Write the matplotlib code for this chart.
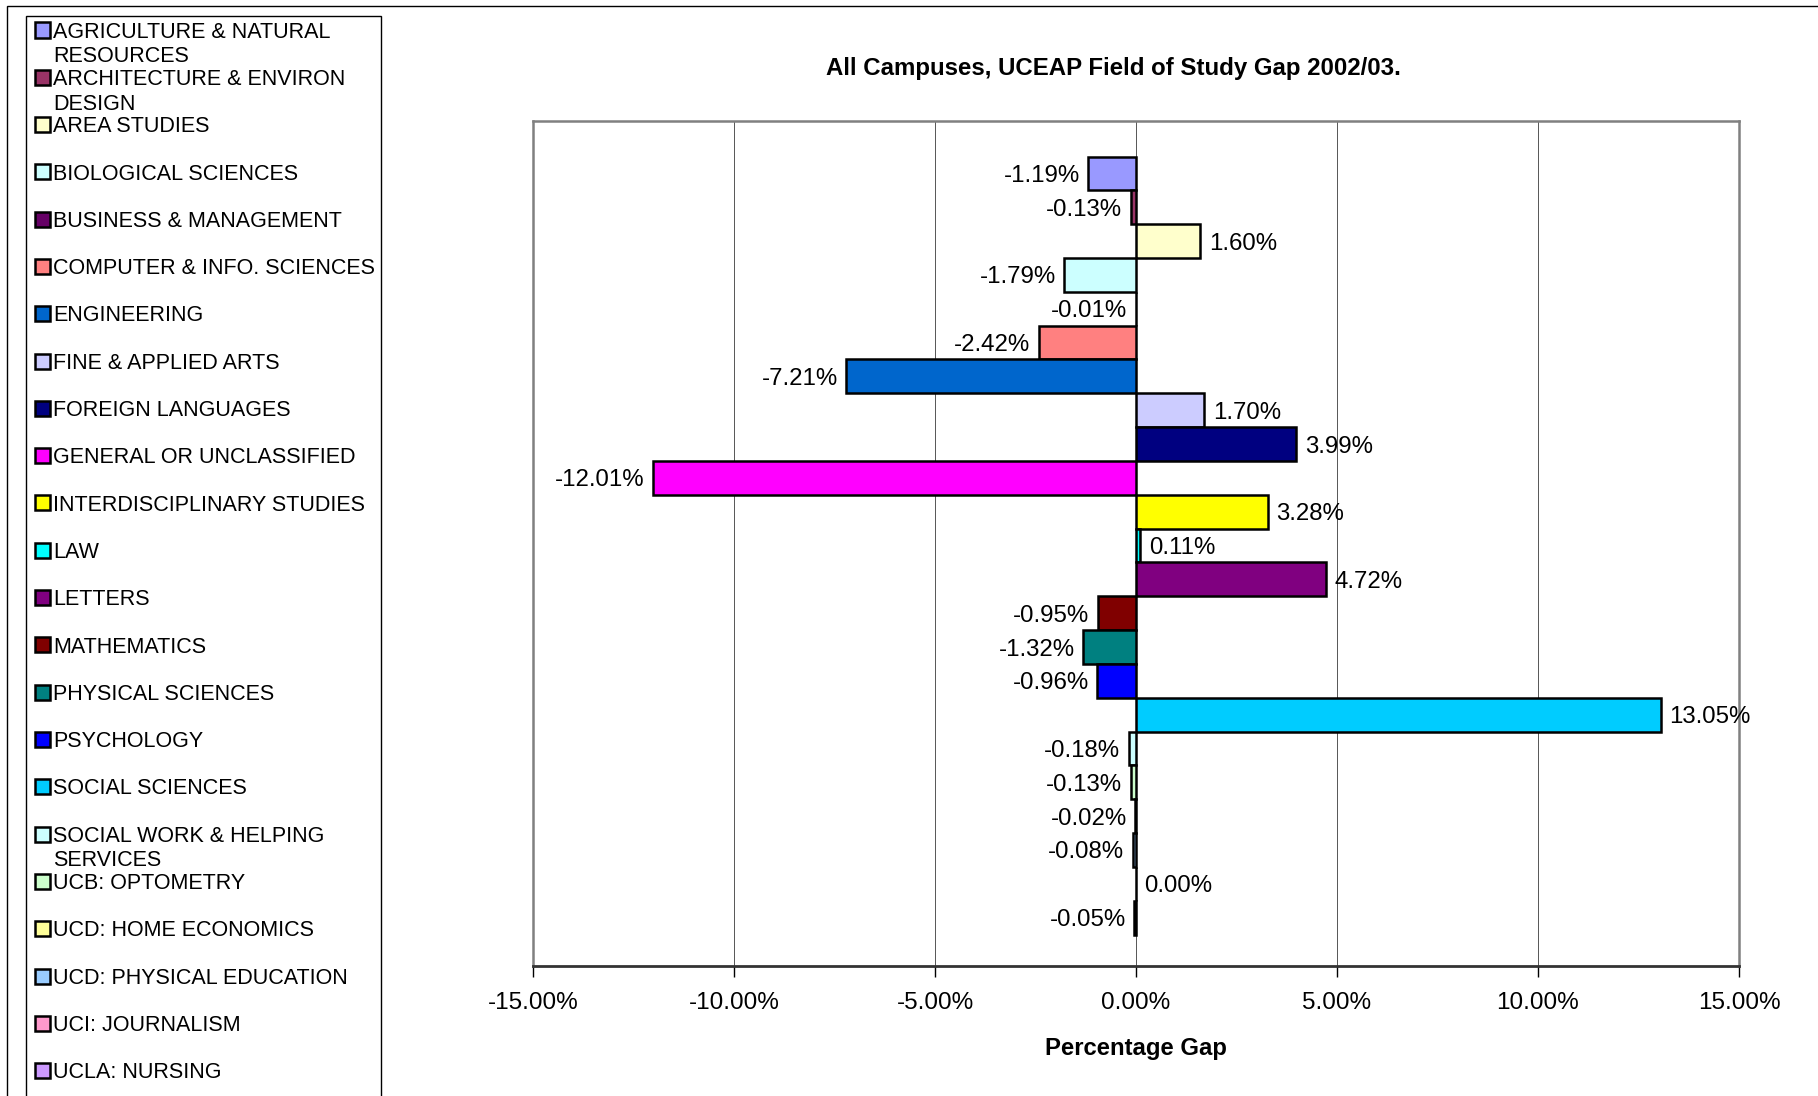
import matplotlib
matplotlib.use('Agg')
import matplotlib.pyplot as plt
from matplotlib.patches import Rectangle

plt.rcParams['font.family'] = ['Liberation Sans', 'DejaVu Sans']

# fields of study (legend order = bar order, top to bottom)
fields = [
    'AGRICULTURE & NATURAL\nRESOURCES',
    'ARCHITECTURE & ENVIRON\nDESIGN',
    'AREA STUDIES',
    'BIOLOGICAL SCIENCES',
    'BUSINESS & MANAGEMENT',
    'COMPUTER & INFO. SCIENCES',
    'ENGINEERING',
    'FINE & APPLIED ARTS',
    'FOREIGN LANGUAGES',
    'GENERAL OR UNCLASSIFIED',
    'INTERDISCIPLINARY STUDIES',
    'LAW',
    'LETTERS',
    'MATHEMATICS',
    'PHYSICAL SCIENCES',
    'PSYCHOLOGY',
    'SOCIAL SCIENCES',
    'SOCIAL WORK & HELPING\nSERVICES',
    'UCB: OPTOMETRY',
    'UCD: HOME ECONOMICS',
    'UCD: PHYSICAL EDUCATION',
    'UCI: JOURNALISM',
    'UCLA: NURSING',
]

# percentage gap per field
gap = [-1.19, -0.13, 1.60, -1.79, -0.01, -2.42, -7.21, 1.70, 3.99, -12.01,
       3.28, 0.11, 4.72, -0.95, -1.32, -0.96, 13.05, -0.18, -0.13, -0.02,
       -0.08, 0.00, -0.05]

colors = ['#9999FF', '#993366', '#FFFFCC', '#CCFFFF', '#660066', '#FF8080',
          '#0066CC', '#CCCCFF', '#000080', '#FF00FF', '#FFFF00', '#00FFFF',
          '#800080', '#800000', '#008080', '#0000FF', '#00CCFF', '#CCFFFF',
          '#CCFFCC', '#FFFF99', '#99CCFF', '#FF99CC', '#CC99FF']

xticks = [-15, -10, -5, 0, 5, 10, 15]

W, H = 1818, 1096
fig = plt.figure(figsize=(W / 100, H / 100), dpi=100)

# outer chart border
fig.patches.append(Rectangle((7 / W, -0.1), 1.2, 1 - 6 / H + 0.1, transform=fig.transFigure,
                             fill=False, edgecolor='black', lw=1))

ax = fig.add_axes([533 / W, 1 - 966 / H, (1739 - 533) / W, (966 - 121) / H])

pos = list(range(len(gap)))
ax.barh(pos, gap, height=1.0, color=colors, edgecolor='black', linewidth=1.8, zorder=3)

for p, v in zip(pos, gap):
    lbl = '{:.2f}%'.format(v)
    if v < 0:
        ax.annotate(lbl, (v, p), xytext=(-6, 0), textcoords='offset points',
                    ha='right', va='center_baseline', fontsize=17.3, zorder=4)
    else:
        ax.annotate(lbl, (v, p), xytext=(6, 0), textcoords='offset points',
                    ha='left', va='center_baseline', fontsize=17.3, zorder=4)

ax.set_xlim(-15, 15)
ax.set_ylim(len(gap) - 0.5 + 0.93, -0.5 - 1.05)
ax.set_xticks(xticks)
ax.set_xticklabels(['{:.2f}%'.format(t) for t in xticks], fontsize=17.5)
ax.set_yticks([])
ax.tick_params(axis='x', direction='out', length=8, width=1, pad=11)
ax.grid(axis='x', color='#555555', lw=0.7, zorder=0)
for s in ['top', 'left', 'right']:
    ax.spines[s].set_color('#808080')
    ax.spines[s].set_linewidth(1.8)
ax.spines['bottom'].set_color('#333333')
ax.spines['bottom'].set_linewidth(2)

ax.set_xlabel('Percentage Gap', fontsize=17.2, fontweight='bold', labelpad=16)
fig.text(1113 / W, 1 - 69 / H, 'All Campuses, UCEAP Field of Study Gap 2002/03.',
         ha='center', va='center', fontsize=17.3, fontweight='bold')

# legend box drawn by hand (Excel style, wrapped entries)
fig.patches.append(Rectangle((26 / W, -0.1), (381 - 26) / W, 1 - 16 / H + 0.1,
                             transform=fig.transFigure, fill=False, edgecolor='black', lw=1))
y0, step, wrap = 30, 47.3, 24.5
for i, (name, c) in enumerate(zip(fields, colors)):
    yc = y0 + i * step
    fig.patches.append(Rectangle((35 / W, 1 - (yc + 7.5) / H), 15 / W, 15 / H,
                                 transform=fig.transFigure, facecolor=c,
                                 edgecolor='black', lw=1.8))
    for k, line in enumerate(name.split('\n')):
        fig.text(53 / W, 1 - (yc + 7.7 + k * wrap) / H, line, ha='left', va='baseline',
                 fontsize=15.5)

fig.savefig('out.png', dpi=100)
